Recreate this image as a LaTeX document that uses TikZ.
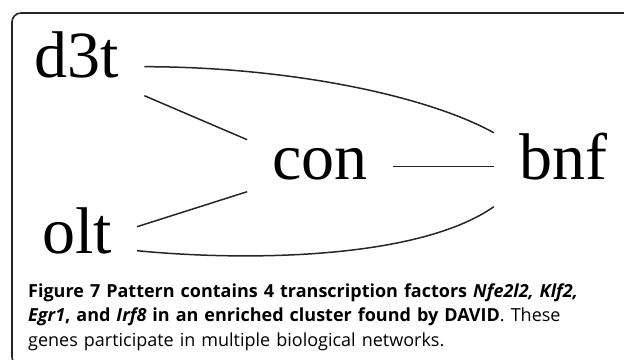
\documentclass[tikz,border=0pt]{standalone}
\usepackage{fontspec}
\setmainfont{Liberation Serif}
\newfontfamily\capfont{Open Sans}

\tikzset{
  gene/.style={font=\fontsize{66}{66}\selectfont, anchor=base,
    inner xsep=25pt, inner ysep=0pt},
  link/.style={draw=black!85, line width=1.5pt}
}

\begin{document}
\begin{tikzpicture}[x=1pt,y=-1pt]

  \useasboundingbox (0,0) rectangle (624,359);
  \clip (0,0) rectangle (624,359);

  % frame
  \draw[black!85, line width=1.6pt, rounded corners=9pt] (12,13) rectangle (680,366);

  \node[gene] (d3t) at (77,77) {d3t};
  \node[gene] (con) at (320,179) {con};
  \node[gene] (bnf) at (563,179) {bnf};
  \node[gene] (olt) at (77,253) {olt};

  % links
  \draw[link] ([yshift=8pt]d3t.mid east) .. controls +(135,0) and +(-73,-40) .. ([yshift=44pt]bnf.mid west);
  \draw[link] ([yshift=-21pt]d3t.mid east) -- ([yshift=37pt]con.mid west);
  \draw[link] ([yshift=10pt]con.mid east) -- ([yshift=10pt]bnf.mid west);
  \draw[link] ([yshift=24pt]olt.mid east) -- ([yshift=-15pt]con.mid west);
  \draw[link] (olt.mid east) .. controls +(113,11) and +(-74,52) .. ([yshift=-30pt]bnf.mid west);

  \node[anchor=base west, inner sep=0pt, text width=600pt, align=left,
    font=\capfont\fontsize{18}{24.5}\selectfont] (caption) at (28,297)
  {\textbf{Figure 7 Pattern contains 4 transcription factors \textit{Nfe2l2, Klf2,}}\\
   \textbf{\textit{Egr1}, and \textit{Irf8} in an enriched cluster found by DAVID}. These\\
   genes participate in multiple biological networks.};

\end{tikzpicture}
\end{document}
